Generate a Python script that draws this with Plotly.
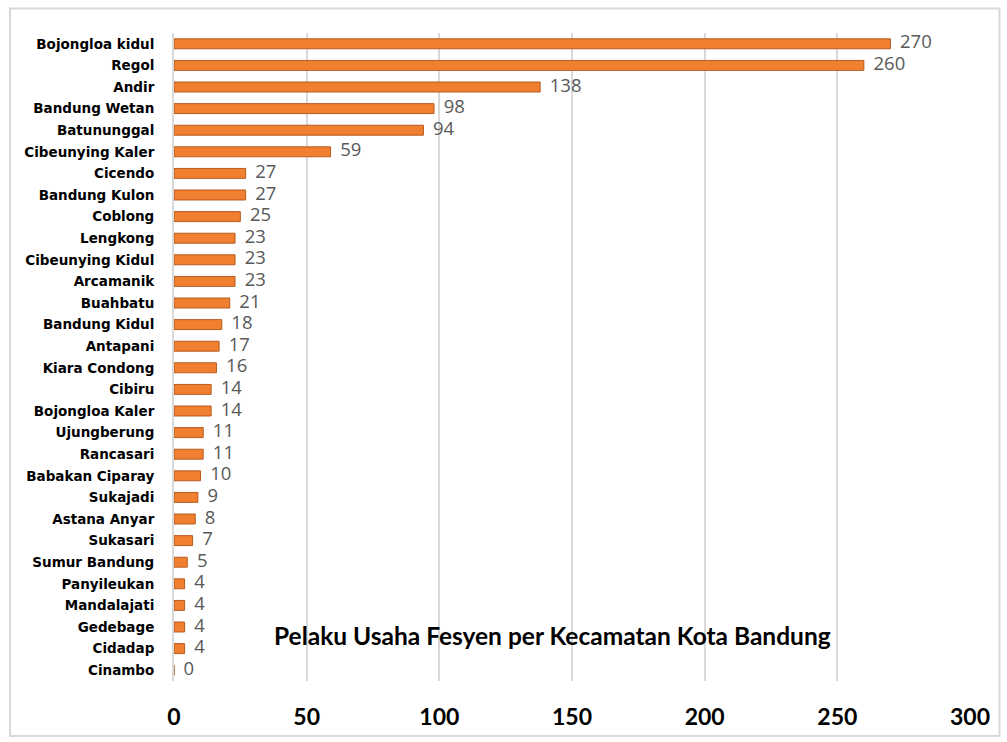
import plotly.graph_objects as go

categories = ["Bojongloa kidul", "Regol", "Andir", "Bandung Wetan", "Batununggal",
              "Cibeunying Kaler", "Cicendo", "Bandung Kulon", "Coblong", "Lengkong",
              "Cibeunying Kidul", "Arcamanik", "Buahbatu", "Bandung Kidul", "Antapani",
              "Kiara Condong", "Cibiru", "Bojongloa Kaler", "Ujungberung", "Rancasari",
              "Babakan Ciparay", "Sukajadi", "Astana Anyar", "Sukasari", "Sumur Bandung",
              "Panyileukan", "Mandalajati", "Gedebage", "Cidadap", "Cinambo"]
values = [270, 260, 138, 98, 94, 59, 27, 27, 25, 23, 23, 23, 21, 18, 17, 16, 14, 14,
          11, 11, 10, 9, 8, 7, 5, 4, 4, 4, 4, 0]
x_ticks = [0, 50, 100, 150, 200, 250, 300]
title_text = "Pelaku Usaha Fesyen per Kecamatan Kota Bandung"

fig = go.Figure()
fig.add_trace(go.Bar(
    y=categories, x=values, orientation="h",
    marker=dict(color="#F07F30", line=dict(color="#B85A1E", width=1)),
    width=0.46,
    hoverinfo="x+y",
))
fig.add_trace(go.Scatter(
    y=categories, x=values, mode="text",
    text=["\u00a0\u00a0" + str(v) for v in values], textposition="middle right",
    textfont=dict(family="Open Sans, Liberation Sans, sans-serif", size=18.5, color="#595959"),
    cliponaxis=False, hoverinfo="skip",
))

fig.update_layout(
    width=1007, height=742,
    margin=dict(l=174, r=37, t=33, b=55),
    paper_bgcolor="white", plot_bgcolor="white",
    showlegend=False,
    bargap=0.5,
    xaxis=dict(range=[0, 300], tickvals=x_ticks, showgrid=True, gridcolor="#d9d9d9",
               gridwidth=2, zeroline=False, showline=False, ticks="",
               tickfont=dict(family="Lato, Open Sans, sans-serif", size=23, color="black", weight="bold"),
               ticklabelstandoff=20),
    yaxis=dict(categoryorder="array", categoryarray=categories,
               range=[len(categories) - 0.5, -0.5],
               showgrid=False, zeroline=False, showline=True, linecolor="#d9d9d9", linewidth=2,
               ticks="", ticklabelstandoff=15,
               tickfont=dict(family="DejaVu Sans, sans-serif", size=13.5, color="black", weight="bold")),
    annotations=[dict(text="<b>" + title_text + "</b>", xref="paper", yref="paper",
                      x=0.475, y=0.07, xanchor="center", yanchor="middle", showarrow=False,
                      font=dict(family="Lato, Open Sans, sans-serif", size=24.5, color="black"))],
    shapes=[dict(type="rect", xref="paper", yref="paper", x0=-0.206, x1=1.037,
                 y0=-0.085, y1=1.038, line=dict(color="#d9d9d9", width=2))],
)

fig.write_html("out.html")
